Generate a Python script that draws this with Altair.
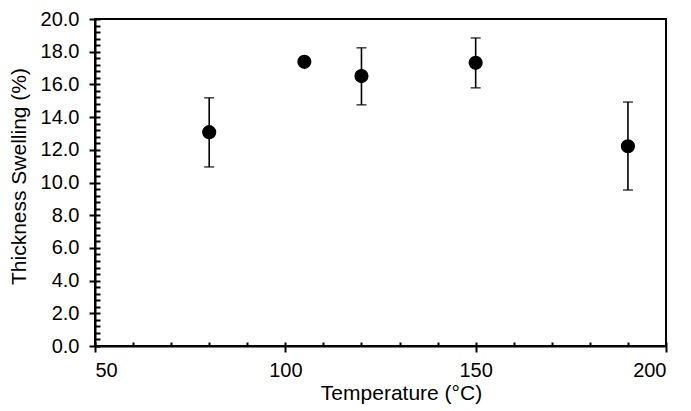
import altair as alt
import pandas as pd

# Data
temps = [80, 105, 120, 150, 190]
means = [13.08, 17.38, 16.51, 17.32, 12.22]
upper = [15.18, None, 18.24, 18.84, 14.92]
lower = [10.95, None, 14.75, 15.79, 9.54]

x_major = [50, 100, 150, 200]
x_minor = list(range(50, 201, 10))
y_major = [0, 2, 4, 6, 8, 10, 12, 14, 16, 18, 20]
y_minor = [round(i * 0.4, 1) for i in range(0, 51)]

df = pd.DataFrame({"temp": temps, "mean": means, "upper": upper, "lower": lower})
err = df.dropna()

FONT = "Liberation Sans"
xs = alt.Scale(domain=[50, 200], nice=False, zero=False)
ys = alt.Scale(domain=[0, 20], nice=False)

base = alt.Chart(df)

points = base.mark_point(filled=True, color="black", opacity=1, size=200).encode(
    x=alt.X("temp:Q", scale=xs,
            axis=alt.Axis(values=x_major, title="Temperature (°C)", tickSize=6,
                          labelPadding=8, titleX=306, titleY=53, titleAlign="center",
                          titleBaseline="alphabetic", grid=False)),
    y=alt.Y("mean:Q", scale=ys,
            axis=alt.Axis(values=y_major, format=".1f", title="Thickness Swelling (%)",
                          tickSize=6, labelPadding=10, titlePadding=11, titleY=157,
                          grid=False)),
)

minor = base.mark_point(opacity=0).encode(
    x=alt.X("temp:Q", scale=xs,
            axis=alt.Axis(values=x_minor, orient="bottom", offset=-4, tickSize=4,
                          labels=False, domain=False, title=None, grid=False)),
    y=alt.Y("mean:Q", scale=ys,
            axis=alt.Axis(values=y_minor, orient="left", offset=-5, tickSize=5,
                          labels=False, domain=False, title=None, grid=False)),
)

rules = alt.Chart(err).mark_rule(color="black", strokeWidth=1.6).encode(
    x=alt.X("temp:Q", scale=xs, axis=None),
    y=alt.Y("lower:Q", scale=ys, axis=None),
    y2="upper:Q",
)
cap_hi = alt.Chart(err).mark_tick(color="black", orient="horizontal", size=10, thickness=1.6).encode(
    x=alt.X("temp:Q", scale=xs, axis=None), y=alt.Y("upper:Q", scale=ys, axis=None)
)
cap_lo = alt.Chart(err).mark_tick(color="black", orient="horizontal", size=10, thickness=1.6).encode(
    x=alt.X("temp:Q", scale=xs, axis=None), y=alt.Y("lower:Q", scale=ys, axis=None)
)

chart = (
    alt.layer(points, minor, rules, cap_hi, cap_lo)
    .resolve_scale(x="shared", y="shared")
    .resolve_axis(x="independent", y="independent")
    .properties(width=571, height=327, padding={"left": 0, "top": 1, "right": 10, "bottom": 5},
                background="white")
    .configure_view(stroke="black", strokeWidth=2)
    .configure_axis(
        domainColor="black", domainWidth=2, tickColor="black", tickWidth=2,
        labelFont=FONT, labelFontSize=20, labelColor="black",
        titleFont=FONT, titleFontSize=21, titleColor="black", titleFontWeight="normal",
    )
)

chart.save("out.html", embed_options={"renderer": "svg", "actions": False})
